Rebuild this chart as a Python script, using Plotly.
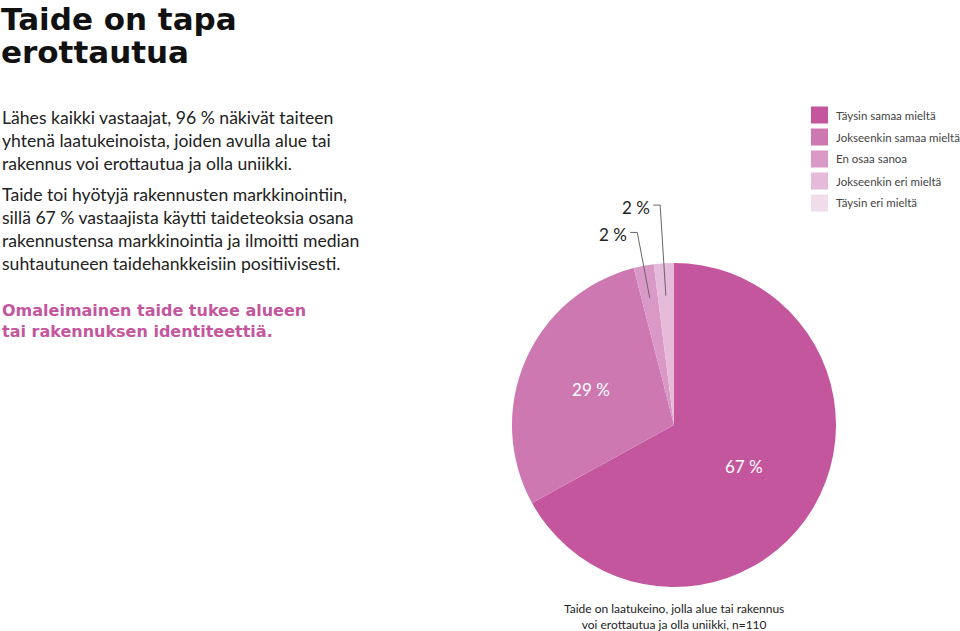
import math
import plotly.graph_objects as go

W, H = 960, 631

categories = ["Täysin samaa mieltä", "Jokseenkin samaa mieltä", "En osaa sanoa",
              "Jokseenkin eri mieltä", "Täysin eri mieltä"]
values = [67, 29, 2, 2, 0]
colors = ["#C4569E", "#CE78B2", "#D998C6", "#E6BAD9", "#F0DCEA"]
inside_labels = ["67 %", "29 %", "", "", ""]
outside_idx = [2, 3]

title_lines = ["Taide on tapa", "erottautua"]
para1 = "Lähes kaikki vastaajat, 96 % näkivät taiteen<br>yhtenä laatukeinoista, joiden avulla alue tai<br>rakennus voi erottautua ja olla uniikki."
para2 = "Taide toi hyötyjä rakennusten markkinointiin,<br>sillä 67 % vastaajista käytti taideteoksia osana<br>rakennustensa markkinointia ja ilmoitti median<br>suhtautuneen taidehankkeisiin positiivisesti."
para3 = "Omaleimainen taide tukee alueen<br>tai rakennuksen identiteettiä."
caption = "Taide on laatukeino, jolla alue tai rakennus<br>voi erottautua ja olla uniikki, n=110"

FONT = "Lato"
HEAVY = "DejaVu Sans"

def px(x):
    return x / W

def py(y):
    return 1 - y / H

# pie geometry (pixels)
cx, cy, R = 674, 425, 162

fig = go.Figure()
fig.add_trace(go.Pie(
    labels=categories, values=values, sort=False, direction="clockwise", rotation=0,
    marker=dict(colors=colors, line=dict(width=0)),
    text=inside_labels, textinfo="text", textposition="inside",
    insidetextorientation="horizontal",
    insidetextfont=dict(color="white", size=17, family=FONT),
    hoverinfo="label+percent",
    domain=dict(x=[px(cx - R), px(cx + R)], y=[py(cy + R), py(cy - R)]),
    showlegend=False,
))

annotations = []
shapes = []

# title
for i, line in enumerate(title_lines):
    annotations.append(dict(x=px(-1), y=py(19 + 33 * i), xref="paper", yref="paper",
                            xanchor="left", yanchor="middle", showarrow=False, text=line,
                            font=dict(family=HEAVY, size=31, color="#111", weight=700)))

for txt, yc, col, fam, sz, wt in [(para1, 140, "#222", FONT, 17.6, 400),
                                  (para2, 229, "#222", FONT, 17.6, 400),
                                  (para3, 321, "#C4569E", HEAVY, 16, 700)]:
    annotations.append(dict(x=px(0), y=py(yc), xref="paper", yref="paper",
                            xanchor="left", yanchor="middle", align="left", showarrow=False,
                            text=txt, font=dict(family=fam, size=sz, color=col, weight=wt)))

annotations.append(dict(x=px(cx), y=py(616), xref="paper", yref="paper",
                        xanchor="center", yanchor="middle", align="center", showarrow=False,
                        text=caption, font=dict(family=FONT, size=12, color="#222")))

# outside labels with leader lines, computed from data
total = sum(values)
cum = 0
mids = []
for v in values:
    mids.append((cum + v / 2) / total * 2 * math.pi)
    cum += v
outer_r = {3: 1.36, 2: 1.21}
for i in outside_idx:
    a = mids[i]
    sx, sy = math.sin(a), -math.cos(a)
    x0, y0 = cx + sx * R * 0.8, cy + sy * R * 0.8
    x1, y1 = cx + sx * R * outer_r[i], cy + sy * R * outer_r[i]
    x2 = x1 - 7
    shapes.append(dict(type="path", xref="paper", yref="paper",
                       path=f"M {px(x0)},{py(y0)} L {px(x1)},{py(y1)} L {px(x2)},{py(y1)}",
                       line=dict(color="#666", width=1)))
    annotations.append(dict(x=px(x2 - 1), y=py(y1 + 2), xref="paper", yref="paper",
                            xanchor="right", yanchor="middle", showarrow=False,
                            text=f"{values[i]} %", font=dict(family=FONT, size=17, color="#222")))

# legend
for i, lab in enumerate(categories):
    yc = 115 + 22 * i
    shapes.append(dict(type="rect", xref="paper", yref="paper",
                       x0=px(811), x1=px(828), y0=py(yc + 8.5), y1=py(yc - 8.5),
                       fillcolor=colors[i], line=dict(width=0)))
    annotations.append(dict(x=px(834), y=py(yc), xref="paper", yref="paper",
                            xanchor="left", yanchor="middle", showarrow=False, text=lab,
                            font=dict(family=FONT, size=11.5, color="#444")))

fig.update_layout(
    width=W, height=H, margin=dict(l=0, r=0, t=0, b=0),
    paper_bgcolor="white", plot_bgcolor="white",
    annotations=annotations, shapes=shapes, showlegend=False,
    font=dict(family=FONT),
)

fig.write_html("out.html", config={"displayModeBar": False},
               post_script="document.body.style.margin='0';")
